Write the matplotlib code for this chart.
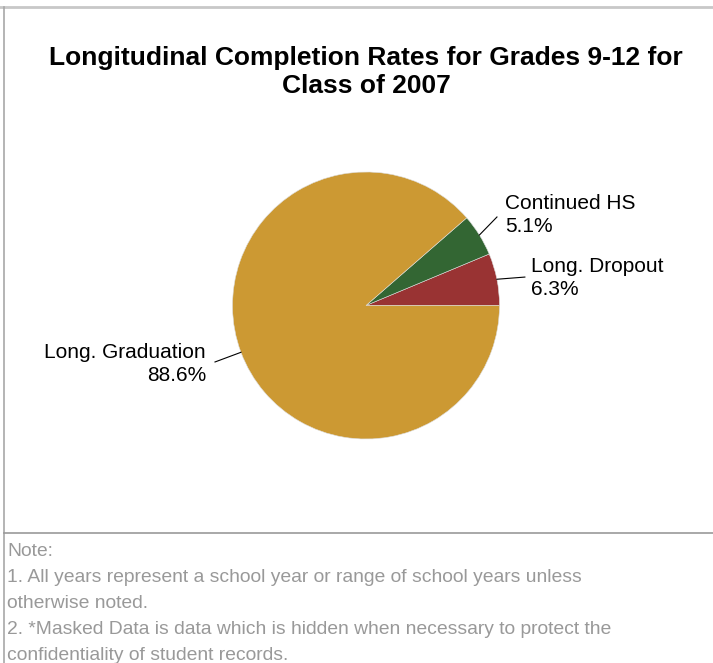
import numpy as np
import matplotlib
matplotlib.use("Agg")
import matplotlib.pyplot as plt
from matplotlib.lines import Line2D

plt.rcParams['font.family'] = ['Liberation Sans', 'DejaVu Sans']

title = "Longitudinal Completion Rates for Grades 9-12 for\nClass of 2007"
categories = ["Long. Dropout", "Continued HS", "Long. Graduation"]
values = [6.3, 5.1, 88.6]
colors = ["#993333", "#336633", "#CC9933"]
notes = ["Note:",
         "1. All years represent a school year or range of school years unless",
         "otherwise noted.",
         "2. *Masked Data is data which is hidden when necessary to protect the",
         "confidentiality of student records."]

W, H = 713, 663
fig = plt.figure(figsize=(W / 100, H / 100), dpi=100)

# frame lines
fig.add_artist(Line2D([0, 1], [1 - 7 / H, 1 - 7 / H], color="#c8c8c8", lw=2.0, transform=fig.transFigure))
fig.add_artist(Line2D([3.5 / W, 3.5 / W], [0, 1 - 7 / H], color="#a8a8a8", lw=1.2, transform=fig.transFigure))
fig.add_artist(Line2D([3.5 / W, 1], [1 - 533 / H, 1 - 533 / H], color="#999999", lw=1.2, transform=fig.transFigure))

fig.text(366 / W, 1 - 72 / H, title, ha="center", va="center", fontsize=19,
         fontweight="bold", linespacing=1.2, color="black")

# pie axes: center (366, 305.5), radius 133.5 px
cx, cy, r = 366, 305.5, 133.5
ax = fig.add_axes([(cx - r) / W, 1 - (cy + r) / H, 2 * r / W, 2 * r / H])
wedges, _ = ax.pie(values, colors=colors, startangle=0, counterclock=True, radius=1,
                   wedgeprops=dict(edgecolor="#dddddd", linewidth=0.4))
ax.set_xlim(-1, 1)
ax.set_ylim(-1, 1)
ax.set_aspect("equal")
ax.axis("off")

# label layout: leader end and text anchor (in pie radius units)
layout = {
    "Long. Dropout": dict(end=(1.19, 0.213), txt=(1.236, 0.206), ha="left"),
    "Continued HS": dict(end=(0.981, 0.663), txt=(1.041, 0.678), ha="left"),
    "Long. Graduation": dict(end=(-1.131, -0.423), txt=(-1.199, -0.438), ha="right"),
}
for w, cat, v in zip(wedges, categories, values):
    mid = np.deg2rad((w.theta1 + w.theta2) / 2)
    sx, sy = np.cos(mid), np.sin(mid)
    L = layout[cat]
    ax.plot([sx, L["end"][0]], [sy, L["end"][1]], color="black", lw=0.8, clip_on=False)
    ax.text(L["txt"][0], L["txt"][1], f"{cat}\n{v:.1f}%", ha=L["ha"], va="center",
            multialignment=L["ha"], fontsize=15, linespacing=1.25, color="black", clip_on=False)

# notes
for i, line in enumerate(notes):
    fig.text(7 / W, 1 - (552 + i * 26) / H, line, ha="left", va="center",
             fontsize=13.9, color="#999999")

fig.savefig("out.png", dpi=100)
